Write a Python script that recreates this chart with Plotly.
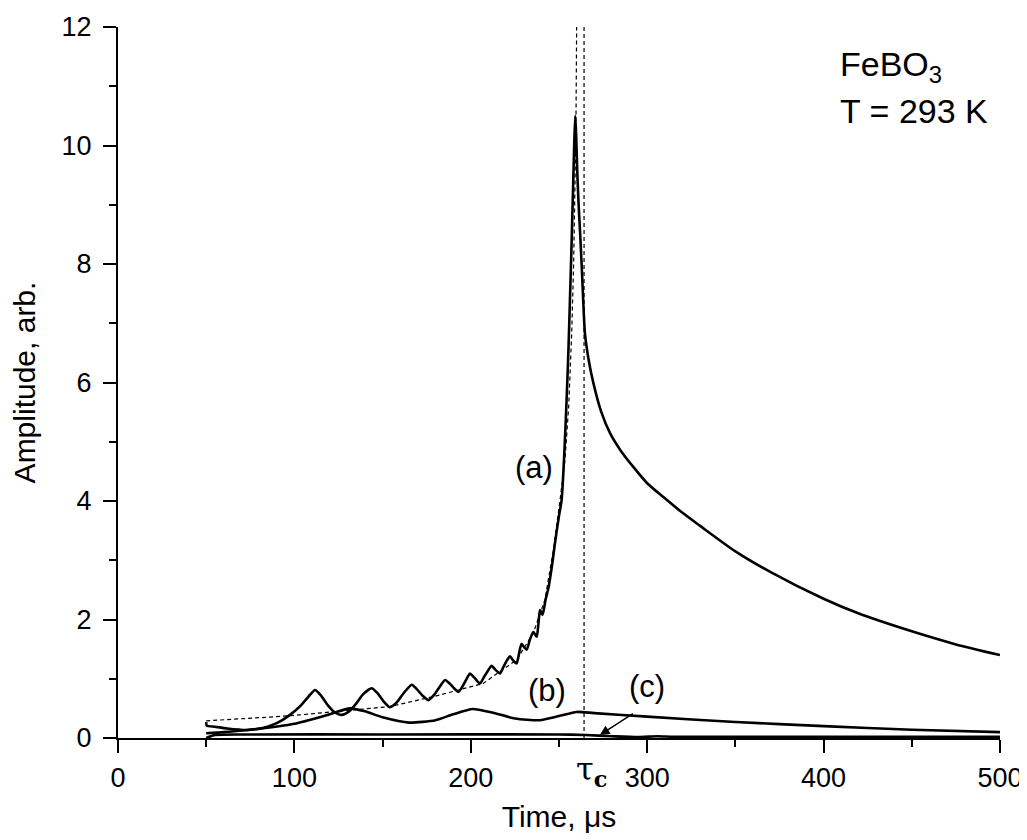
import plotly.graph_objects as go

# ---- data ----
a_time = [50, 50.3, 55, 62, 73, 82, 90, 97.5, 104, 108, 111.7, 115, 119, 123, 126.8,
          131, 135, 139, 143.8, 147, 150.5, 154, 158, 162, 166.5, 169.5, 172.5, 176,
          179.5, 182.5, 185.4, 188, 190.5, 193, 195.5, 197.5, 199.5, 202, 205.2, 207.5,
          209.8, 211.8, 214, 216.6, 218.5, 220.5, 222.2, 224, 226, 227.5, 228.8, 230.3,
          231.7, 233.5, 235.4, 236.4, 237.4, 238.4, 239.2, 240, 240.7, 242.5, 244, 246,
          248, 250, 251.5, 253, 254.3, 255.3, 256.2, 257, 257.8, 258.6, 259.2, 259.7,
          260.3, 261, 262, 262.9, 264, 264.7, 267, 269.5, 274, 279, 285, 292, 300, 309,
          320, 330, 350, 370, 400, 420, 450, 475, 500]
a_amp = [0.27, 0.21, 0.19, 0.16, 0.135, 0.17, 0.25, 0.39, 0.56, 0.70, 0.81, 0.72, 0.55, 0.43, 0.39,
         0.45, 0.58, 0.74, 0.84, 0.76, 0.62, 0.52, 0.60, 0.76, 0.90, 0.82, 0.72, 0.64,
         0.74, 0.87, 0.98, 0.92, 0.84, 0.78, 0.88, 0.99, 1.09, 1.02, 0.92, 1.03,
         1.14, 1.22, 1.15, 1.09, 1.20, 1.31, 1.38, 1.31, 1.26, 1.45, 1.59, 1.53,
         1.49, 1.66, 1.79, 1.75, 1.71, 1.95, 2.16, 2.12, 2.08, 2.35, 2.53, 2.90,
         3.35, 3.75, 4.02, 4.80, 5.70, 6.50, 7.39, 8.20, 9.08, 10.0, 10.5, 10.2,
         9.6, 9.08, 8.5, 7.95, 7.2, 6.83, 6.35, 5.99, 5.5, 5.14, 4.85, 4.58, 4.30, 4.07,
         3.80, 3.58, 3.15, 2.80, 2.35, 2.10, 1.80, 1.58, 1.40]

fit_time = [50, 70, 90, 103, 125, 154, 179, 207, 226, 235.4, 242, 246.8, 250.6,
            253.4, 255.5, 257.2, 258.3, 259.1, 259.6, 260.0]
fit_amp = [0.29, 0.32, 0.36, 0.39, 0.45, 0.53, 0.70, 0.92, 1.32, 1.77, 2.33, 3.17, 4.02,
           4.70, 5.60, 6.83, 8.0, 9.08, 10.3, 12.0]

b_time = [50, 60, 75, 100, 120, 131.5, 140, 150, 165, 180, 190, 201, 212, 225, 239,
          250, 260, 270, 300, 350, 400, 450, 500]
b_amp = [0.08, 0.10, 0.14, 0.24, 0.40, 0.50, 0.45, 0.35, 0.26, 0.30, 0.40, 0.49, 0.43,
         0.33, 0.30, 0.37, 0.44, 0.42, 0.36, 0.27, 0.20, 0.14, 0.10]

c_time = [50, 55, 70, 150, 250, 265, 280, 295, 306, 315, 400, 500]
c_amp = [0.0, 0.05, 0.06, 0.06, 0.06, 0.05, 0.03, 0.015, 0.03, 0.02, 0.02, 0.02]

tau_c = 264.2
x_ticks = [0, 100, 200, 300, 400, 500]
y_ticks = [0, 2, 4, 6, 8, 10, 12]

FONT = "Arial, Liberation Sans, sans-serif"

fig = go.Figure()
fig.add_trace(go.Scatter(x=fit_time, y=fit_amp, mode="lines",
                         line=dict(color="black", width=1.2, dash="4px,3px")))
fig.add_trace(go.Scatter(x=[tau_c, tau_c], y=[0, 12], mode="lines",
                         line=dict(color="black", width=1.2, dash="4px,3px")))
for xs, ys in [(a_time, a_amp), (b_time, b_amp), (c_time, c_amp)]:
    fig.add_trace(go.Scatter(x=xs, y=ys, mode="lines",
                             line=dict(color="black", width=2.6, shape="spline", smoothing=0.6)))

ann = []
ann.append(dict(x=235.8, y=4.57, text="(a)", showarrow=False, font=dict(size=31)))
ann.append(dict(x=243, y=0.80, text="(b)", showarrow=False, font=dict(size=31)))
ann.append(dict(x=299.7, y=0.87, text="(c)", showarrow=False, font=dict(size=31)))
ann.append(dict(x=273.2, y=0.05, ax=295, ay=0.47, axref="x", ayref="y", text=" ",
                showarrow=True, arrowhead=2, arrowsize=1.3, arrowwidth=1.5, arrowcolor="black"))
ann.append(dict(x=408, y=11.33, text="FeBO<sub>3</sub>", showarrow=False, xanchor="left",
                font=dict(size=34)))
ann.append(dict(x=408, y=10.58, text="T = 293 K", showarrow=False, xanchor="left",
                font=dict(size=34)))
ann.append(dict(x=268.5, xref="x", y=-0.014, yref="paper", text="τ<sub><b>c</b></sub>",
                showarrow=False, yanchor="top",
                font=dict(size=32, family="DejaVu Serif, serif")))

fig.update_layout(
    width=1019, height=832,
    margin=dict(l=110, r=27, t=19, b=102, autoexpand=False),
    paper_bgcolor="white", plot_bgcolor="white",
    showlegend=False,
    font=dict(family=FONT, color="black", size=27),
    annotations=ann,
    xaxis=dict(range=[0, 500], tickvals=x_ticks, showgrid=False, zeroline=False,
               automargin=False,
               showline=True, linecolor="black", linewidth=2,
               ticks="outside", ticklen=13, tickwidth=2, tickcolor="black",
               tickfont=dict(size=27), ticklabelstandoff=2,
               minor=dict(ticks="outside", ticklen=7, tickwidth=2, tickcolor="black", dtick=50),
               title=dict(text="Time, μs", font=dict(size=30), standoff=14)),
    yaxis=dict(range=[0, 12], tickvals=y_ticks, showgrid=False, zeroline=False,
               automargin=False,
               showline=True, linecolor="black", linewidth=2,
               ticks="outside", ticklen=13, tickwidth=2, tickcolor="black",
               tickfont=dict(size=27), ticklabelstandoff=6,
               minor=dict(ticks="outside", ticklen=7, tickwidth=2, tickcolor="black", dtick=1),
               title=dict(text="Amplitude, arb.", font=dict(size=30), standoff=20)),
)

fig.write_html("out.html")
